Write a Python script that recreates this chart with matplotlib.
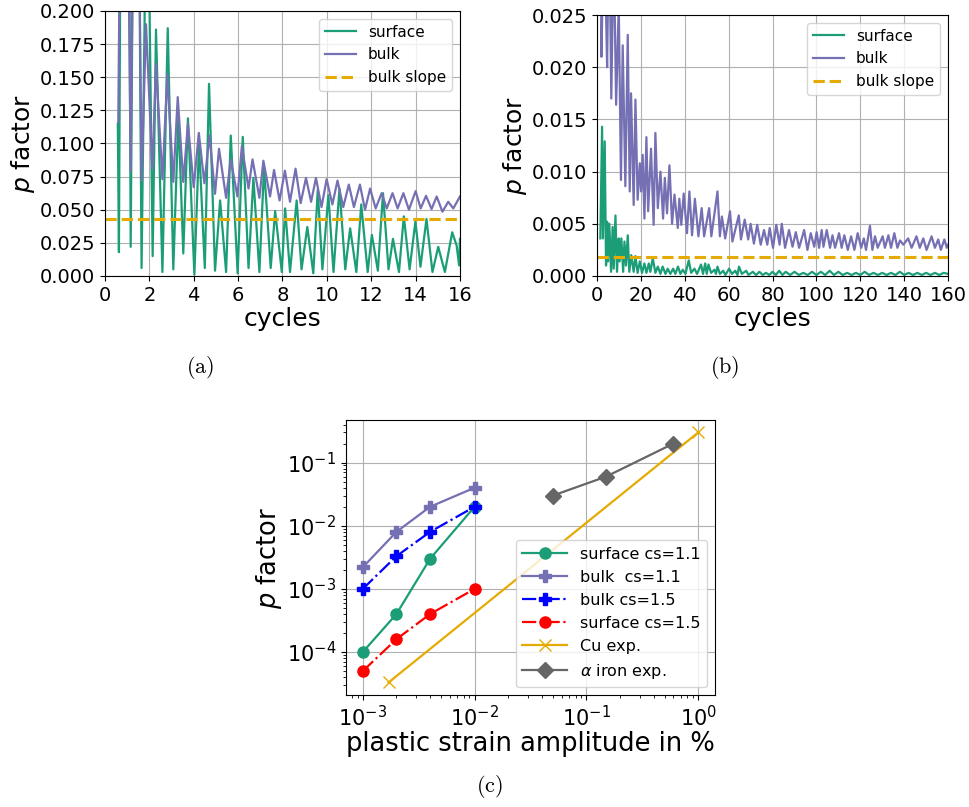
import matplotlib
matplotlib.use("Agg")
import matplotlib.pyplot as plt
from matplotlib.ticker import MultipleLocator

# --- (a) first 16 cycles: extrema ---
surf_a_x = [0.58, 0.63, 0.90, 1.16, 1.40, 1.65, 1.90, 2.15, 2.30, 2.59,
            2.83, 3.08, 3.31, 3.53, 3.74, 4.03, 4.24, 4.50, 4.69, 4.96,
            5.19, 5.46, 5.67, 5.98, 6.21, 6.47, 6.69, 6.96, 7.17, 7.47,
            7.67, 7.97, 8.12, 8.34, 8.64, 8.86, 9.12, 9.39, 9.59, 9.80,
            10.07, 10.30, 10.57, 10.83, 11.05, 11.33, 11.55, 11.84, 12.03, 12.30,
            12.53, 12.78, 12.98, 13.25, 13.47, 13.73, 13.99, 14.22, 14.49, 14.76,
            15.02, 15.32, 15.65, 15.85, 15.96, 16.00]
surf_a_y = [0.115, 0.018, 1.0, 0.022, 0.6, 0.006, 0.35, 0.015, 0.186, 0.003,
            0.187, 0.005, 0.121, 0.017, 0.119, 0.001, 0.100, 0.006, 0.145, 0.004,
            0.057, 0.003, 0.106, 0.002, 0.105, 0.006, 0.074, 0.003, 0.082, 0.006,
            0.049, 0.003, 0.051, 0.003, 0.057, 0.005, 0.037, 0.002, 0.065, 0.005,
            0.061, 0.003, 0.066, 0.005, 0.036, 0.003, 0.054, 0.003, 0.031, 0.004,
            0.0625, 0.005, 0.028, 0.003, 0.045, 0.005, 0.041, 0.007, 0.043, 0.003,
            0.022, 0.003, 0.033, 0.023, 0.008, 0.028]

bulk_a_x = [0.60, 0.85, 1.16, 1.40, 1.65, 1.85, 2.14, 2.30, 2.59, 2.81,
            3.08, 3.28, 3.53, 3.74, 4.00, 4.23, 4.48, 4.71, 4.96, 5.14,
            5.46, 5.67, 5.97, 6.17, 6.47, 6.65, 6.96, 7.14, 7.44, 7.62,
            7.87, 8.11, 8.34, 8.59, 8.82, 9.06, 9.29, 9.51, 9.76, 9.99,
            10.25, 10.48, 10.74, 10.99, 11.22, 11.49, 11.72, 11.95, 12.20, 12.47,
            12.70, 12.96, 13.19, 13.45, 13.70, 14.00, 14.23, 14.47, 14.72, 14.95,
            15.21, 15.47, 15.70, 16.00]
bulk_a_y = [0.116, 0.6, 0.079, 0.5, 0.072, 0.190, 0.081, 0.160, 0.073, 0.152,
            0.071, 0.135, 0.071, 0.115, 0.067, 0.108, 0.070, 0.106, 0.062, 0.096,
            0.059, 0.088, 0.060, 0.098, 0.066, 0.088, 0.059, 0.087, 0.060, 0.080,
            0.057, 0.0795, 0.056, 0.081, 0.055, 0.074, 0.056, 0.074, 0.052, 0.073,
            0.054, 0.072, 0.052, 0.069, 0.052, 0.069, 0.050, 0.066, 0.051, 0.0625,
            0.051, 0.0625, 0.051, 0.0625, 0.050, 0.064, 0.051, 0.0605, 0.0505, 0.060,
            0.0485, 0.056, 0.051, 0.060]

slope_a = 0.0428

# --- (b) 160 cycles ---
surf_b_x = [1.5, 2.3, 2.7, 3.5, 4.1, 4.6, 5.0, 5.6, 6.4, 7.1,
            7.6, 8.4, 9.1, 9.9, 10.3, 11.1, 11.9, 12.5, 13.2, 14.0,
            14.7, 15.6, 16.7, 17.5, 18.5, 19.5, 20.5, 21.6, 22.5, 23.6,
            24.3, 25.4, 26.6, 27.7, 28.9, 29.9, 31.2, 32.2, 33.4, 34.7,
            35.7, 36.9, 38.0, 39.1, 40.3, 41.8, 42.9, 44.4, 45.6, 47.4,
            48.3, 49.3, 50.0, 50.8, 52.0, 53.5, 54.2, 54.9, 56.0, 57.5,
            58.5, 60.2, 61.5, 63.0, 64.0, 64.7, 66.0, 68.0, 69.0, 71.0,
            72.5, 74.0, 75.5, 77.0, 78.5, 80.0, 81.5, 83.0, 84.5, 86.0,
            88.0, 90.0, 92.0, 94.0, 96.0, 98.0, 100.0, 102.0, 104.0, 106.0,
            108.0, 110.0, 112.0, 114.0, 116.0, 118.0, 120.0, 122.0, 124.0, 126.0,
            128.0, 130.0, 132.0, 134.0, 136.0, 138.0, 140.0, 142.0, 144.0, 146.0,
            148.0, 150.0, 152.0, 154.0, 156.0, 158.0, 160.0]
surf_b_y = [0.0036, 0.0143, 0.0036, 0.0129, 0.0010, 0.0052, 0.0014, 0.0050, 0.0004, 0.0047,
            0.0007, 0.0058, 0.0004, 0.0036, 0.0014, 0.0036, 0.0004, 0.0033, 0.0010, 0.0039,
            0.0004, 0.0020, 0.0004, 0.0019, 0.0003, 0.0014, 0.0003, 0.0012, 0.0003, 0.0012,
            0.0004, 0.0017, 0.0003, 0.0009, 0.0002, 0.0009, 0.0002, 0.0007, 0.0002, 0.0007,
            0.0002, 0.0009, 0.0002, 0.0006, 0.0002, 0.0015, 0.0003, 0.0007, 0.0002, 0.0011,
            0.0002, 0.0012, 0.0002, 0.0011, 0.0003, 0.0006, 0.0002, 0.0009, 0.0002, 0.0005,
            0.0001, 0.0007, 0.0002, 0.0005, 0.0001, 0.0009, 0.0002, 0.0005, 0.0001, 0.0004,
            0.0001, 0.0004, 0.0001, 0.0003, 0.0001, 0.0004, 0.0001, 0.0005, 0.0001, 0.0004,
            0.0001, 0.0004, 0.0001, 0.0003, 0.0001, 0.0004, 0.0001, 0.0004, 0.0001, 0.0005,
            0.0001, 0.0004, 0.0001, 0.0003, 0.0001, 0.0003, 0.0001, 0.0004, 0.0001, 0.0003,
            0.0001, 0.0003, 0.0001, 0.0003, 0.0001, 0.0004, 0.0001, 0.0003, 0.0001, 0.0003,
            0.0001, 0.0003, 0.0001, 0.0003, 0.0001, 0.0003, 0.0002]

bulk_b_x = [1.8, 2.0, 3.2, 4.6, 5.5, 6.5, 7.6, 8.7, 9.9, 10.9,
            11.7, 12.9, 14.0, 14.9, 15.5, 16.7, 17.5, 18.5, 19.5, 20.1,
            20.8, 21.6, 22.5, 23.3, 24.6, 25.8, 26.6, 27.7, 28.9, 30.1,
            30.9, 31.9, 33.0, 34.2, 35.3, 36.8, 37.5, 38.4, 39.5, 41.0,
            42.1, 43.3, 44.6, 46.2, 47.7, 48.8, 51.1, 52.1, 54.9, 56.0,
            56.9, 58.4, 60.6, 61.7, 64.6, 65.6, 67.3, 68.9, 70.0, 71.5,
            73.0, 74.6, 76.1, 77.6, 78.7, 80.2, 81.7, 83.2, 84.2, 85.7,
            87.5, 89.1, 90.6, 92.1, 94.4, 95.9, 97.4, 99.0, 100.1, 101.2,
            102.4, 103.2, 104.7, 106.2, 107.3, 108.5, 110.3, 111.5, 112.7, 114.3,
            115.8, 117.3, 118.8, 120.4, 121.6, 122.6, 124.4, 125.5, 126.7, 127.9,
            130.2, 131.2, 132.8, 134.0, 135.5, 136.9, 138.1, 139.6, 141.8, 143.4,
            145.6, 147.1, 148.7, 150.2, 152.5, 154.0, 155.5, 156.7, 158.3, 159.4,
            160.0]
bulk_b_y = [0.030, 0.021, 0.035, 0.020, 0.035, 0.017, 0.032, 0.0164, 0.026, 0.0092,
            0.0221, 0.0086, 0.0231, 0.0081, 0.0175, 0.0068, 0.0169, 0.0073, 0.0108, 0.0081,
            0.0116, 0.0055, 0.0133, 0.0062, 0.0122, 0.0049, 0.0137, 0.0065, 0.0100, 0.0055,
            0.0094, 0.0060, 0.0106, 0.0050, 0.0078, 0.0046, 0.0074, 0.0049, 0.0079, 0.0041,
            0.0081, 0.0039, 0.0074, 0.0038, 0.0065, 0.0038, 0.0065, 0.0038, 0.0081, 0.0038,
            0.0057, 0.0036, 0.0062, 0.0033, 0.0058, 0.0035, 0.0054, 0.0035, 0.0050, 0.0031,
            0.0049, 0.0030, 0.0044, 0.0030, 0.0046, 0.0027, 0.0049, 0.0030, 0.0050, 0.0027,
            0.0044, 0.0028, 0.0042, 0.0027, 0.0044, 0.0025, 0.0041, 0.0028, 0.0042, 0.0027,
            0.0044, 0.0028, 0.0044, 0.0027, 0.0039, 0.0027, 0.0041, 0.0027, 0.0039, 0.0025,
            0.0038, 0.0025, 0.0041, 0.0027, 0.0036, 0.0025, 0.0048, 0.0025, 0.0038, 0.0027,
            0.0038, 0.0027, 0.0039, 0.0027, 0.0041, 0.0027, 0.0034, 0.0030, 0.0036, 0.0027,
            0.0038, 0.0027, 0.0036, 0.0025, 0.0038, 0.0027, 0.0035, 0.0025, 0.0035, 0.0027,
            0.0030]

slope_b = 0.00185

# --- (c) p factor vs plastic strain amplitude ---
strain = [1e-3, 2e-3, 4e-3, 1e-2]
surf_cs11 = [1e-4, 4e-4, 3e-3, 2e-2]
bulk_cs11 = [2.2e-3, 8e-3, 2e-2, 4e-2]
bulk_cs15 = [1e-3, 3.3e-3, 8e-3, 2e-2]
surf_cs15 = [5e-5, 1.6e-4, 4e-4, 1e-3]
cu_strain = [1.7e-3, 1.0]
cu_p = [3.3e-5, 3e-1]
fe_strain = [0.05, 0.15, 0.6]
fe_p = [0.03, 0.06, 0.2]

GREEN = "#1b9e77"
PURPLE = "#7570b3"
ORANGE = "#e6ab02"
GRAY = "#666666"

fig = plt.figure(figsize=(9.7, 8.07), dpi=100)

# (a)
ax_a = fig.add_axes([0.1082, 0.658, 0.366, 0.3284])
ax_a.plot(surf_a_x, surf_a_y, color=GREEN, lw=1.6, label="surface")
ax_a.plot(bulk_a_x, bulk_a_y, color=PURPLE, lw=1.6, label="bulk")
ax_a.axhline(slope_a, color=ORANGE, lw=2.2, ls="--", label="bulk slope")
ax_a.set_xlim(0, 16)
ax_a.set_ylim(0, 0.2)
ax_a.xaxis.set_major_locator(MultipleLocator(2))
ax_a.yaxis.set_major_locator(MultipleLocator(0.025))
ax_a.yaxis.set_major_formatter(plt.FormatStrFormatter("%.3f"))
ax_a.set_xlabel("cycles", fontsize=18, labelpad=2)
ax_a.set_ylabel("$p$ factor", fontsize=18, labelpad=2)
ax_a.tick_params(labelsize=14)
ax_a.grid(True)
ax_a.legend(loc="upper right", fontsize=11)

# (b)
ax_b = fig.add_axes([0.6155, 0.658, 0.3619, 0.3234])
ax_b.plot(surf_b_x, surf_b_y, color=GREEN, lw=1.6, label="surface")
ax_b.plot(bulk_b_x, bulk_b_y, color=PURPLE, lw=1.6, label="bulk")
ax_b.axhline(slope_b, color=ORANGE, lw=2.2, ls="--", label="bulk slope")
ax_b.set_xlim(0, 160)
ax_b.set_ylim(0, 0.025)
ax_b.xaxis.set_major_locator(MultipleLocator(20))
ax_b.yaxis.set_major_locator(MultipleLocator(0.005))
ax_b.yaxis.set_major_formatter(plt.FormatStrFormatter("%.3f"))
ax_b.set_xlabel("cycles", fontsize=18, labelpad=2)
ax_b.set_ylabel("$p$ factor", fontsize=18, labelpad=2)
ax_b.tick_params(labelsize=14)
ax_b.grid(True)
ax_b.legend(loc="upper right", fontsize=11)

# (c)
ax_c = fig.add_axes([0.3567, 0.1388, 0.3804, 0.3408])
ax_c.plot(strain, surf_cs11, color=GREEN, marker="o", ms=8, lw=1.6, label="surface cs=1.1")
ax_c.plot(strain, bulk_cs11, color=PURPLE, marker="P", ms=8, lw=1.6, label="bulk  cs=1.1")
ax_c.plot(strain, bulk_cs15, color="b", marker="P", ms=8, lw=1.6, ls="-.", label="bulk cs=1.5")
ax_c.plot(strain, surf_cs15, color="r", marker="o", ms=8, lw=1.6, ls="-.", label="surface cs=1.5")
ax_c.plot(cu_strain, cu_p, color=ORANGE, marker="x", ms=9, lw=1.6, label="Cu exp.")
ax_c.plot(fe_strain, fe_p, color=GRAY, marker="D", ms=8, lw=1.6, label=r"$\alpha$ iron exp.")
ax_c.set_xscale("log")
ax_c.set_yscale("log")
ax_c.set_xlabel("plastic strain amplitude in %", fontsize=18.5, labelpad=1)
ax_c.set_ylabel("$p$ factor", fontsize=18.5, labelpad=2)
ax_c.tick_params(labelsize=15)
ax_c.grid(True)
ax_c.legend(loc="lower right", fontsize=11.5, handlelength=2.8)

# sub-figure captions
fig.text(0.206, 0.544, r"$\mathrm{(a)}$", ha="center", va="center", fontsize=16, math_fontfamily="cm")
fig.text(0.747, 0.544, r"$\mathrm{(b)}$", ha="center", va="center", fontsize=16, math_fontfamily="cm")
fig.text(0.505, 0.025, r"$\mathrm{(c)}$", ha="center", va="center", fontsize=16, math_fontfamily="cm")

fig.savefig("out.png", dpi=100)
